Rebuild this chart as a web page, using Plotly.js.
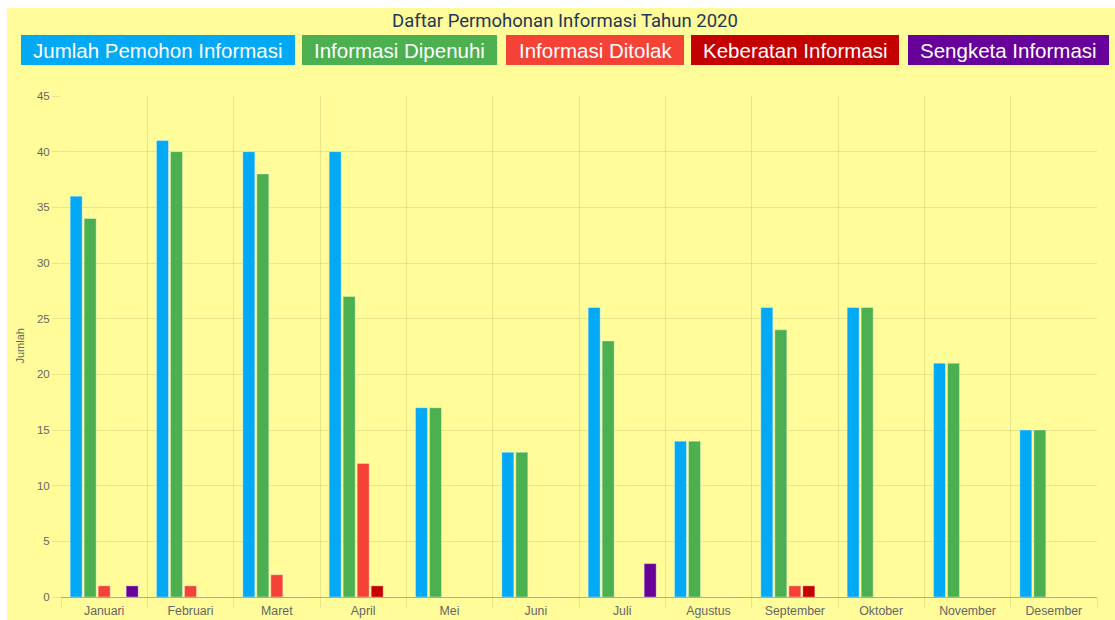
<!DOCTYPE html>
<html>
<head>
<meta charset="utf-8">
<script src="https://cdn.plot.ly/plotly-3.0.1.min.js"></script>
<style>
html,body{margin:0;padding:0;background:#ffffff;width:1115px;height:620px;overflow:hidden;}
#chart{position:absolute;left:7px;top:8px;width:1108px;height:612px;}
</style>
</head>
<body>
<div id="chart"></div>
<script>
const months = ["Januari","Februari","Maret","April","Mei","Juni","Juli","Agustus","September","Oktober","November","Desember"];
const seriesNames = ["Jumlah Pemohon Informasi","Informasi Dipenuhi","Informasi Ditolak","Keberatan Informasi","Sengketa Informasi"];
const seriesColors = ["#03A9F4","#4CAF50","#F44336","#C40000","#670199"];
const jumlahPemohon = [36,41,40,40,17,13,26,14,26,26,21,15];
const dipenuhi      = [34,40,38,27,17,13,23,14,24,26,21,15];
const ditolak       = [1,1,2,12,0,0,0,0,1,0,0,0];
const keberatan     = [0,0,0,1,0,0,0,0,1,0,0,0];
const sengketa      = [1,0,0,0,0,0,3,0,0,0,0,0];
const seriesValues = [jumlahPemohon, dipenuhi, ditolak, keberatan, sengketa];
const titleText = "Daftar Permohonan Informasi Tahun 2020";
const yTitle = "Jumlah";

const W = 1108, H = 612;
const M = {l:54, r:18, t:88, b:23};
const PW = W - M.l - M.r, PH = H - M.t - M.b;
const px = x => (x - M.l) / PW;          // div px -> paper x
const py = y => (H - M.b - y) / PH;      // div px -> paper y

const traces = seriesNames.map((n,i)=>({
  type:'bar', name:n, x:months, y:seriesValues[i],
  marker:{color:seriesColors[i], line:{color:'rgba(255,255,255,0.35)', width:1}},
  hoverinfo:'x+y+name'
}));

const boxes = [[14,288],[295,490],[499,677],[684,892],[901,1102]];
const boxTop = 27, boxBot = 57;
const shapes = boxes.map((b,i)=>({
  type:'rect', xref:'paper', yref:'paper',
  x0:px(b[0]), x1:px(b[1]), y0:py(boxBot), y1:py(boxTop),
  fillcolor:seriesColors[i], line:{width:0}, layer:'above'
}));
const annotations = boxes.map((b,i)=>({
  xref:'paper', yref:'paper', x:px((b[0]+b[1])/2), y:py((boxTop+boxBot)/2),
  xanchor:'center', yanchor:'middle', showarrow:false,
  text:seriesNames[i], font:{family:'Liberation Sans, Arial, sans-serif', size:20.5, color:'#ffffff'}
}));
annotations.push({
  xref:'paper', yref:'paper', x:px(12), y:0.5, xanchor:'center', yanchor:'middle',
  showarrow:false, textangle:-90, text:yTitle,
  font:{family:'Liberation Sans, Arial, sans-serif', size:11, color:'#666666'}
});

const layout = {
  width:W, height:H,
  paper_bgcolor:'#FFFC99', plot_bgcolor:'#FFFC99',
  margin:M,
  title:{text:titleText, x:558/W, xanchor:'center', y:1-12.5/H, yanchor:'middle',
    font:{family:'Roboto, sans-serif', size:18.5, color:'#1d3759', weight:'normal'}},
  showlegend:false,
  barmode:'group', bargap:0.189, bargroupgap:0.143,
  xaxis:{type:'category', tickson:'boundaries', showgrid:true, gridcolor:'rgba(0,0,0,0.09)', gridwidth:1,
    ticks:'outside', ticklen:10, tickcolor:'rgba(0,0,0,0.09)', ticklabelstandoff:5,
    tickfont:{family:'Liberation Sans, Arial, sans-serif', size:12.3, color:'#666666'},
    showline:false, zeroline:false, fixedrange:true},
  yaxis:{range:[0,45], dtick:5, showgrid:true, gridcolor:'rgba(0,0,0,0.09)', gridwidth:1,
    ticks:'outside', ticklen:8, tickcolor:'rgba(0,0,0,0.09)',
    tickfont:{family:'Liberation Sans, Arial, sans-serif', size:11.5, color:'#666666'},
    zeroline:true, zerolinecolor:'rgba(0,0,0,0.3)', zerolinewidth:1, showline:false, fixedrange:true},
  shapes:shapes, annotations:annotations
};
Plotly.newPlot('chart', traces, layout, {displayModeBar:false, staticPlot:true});
</script>
</body>
</html>
